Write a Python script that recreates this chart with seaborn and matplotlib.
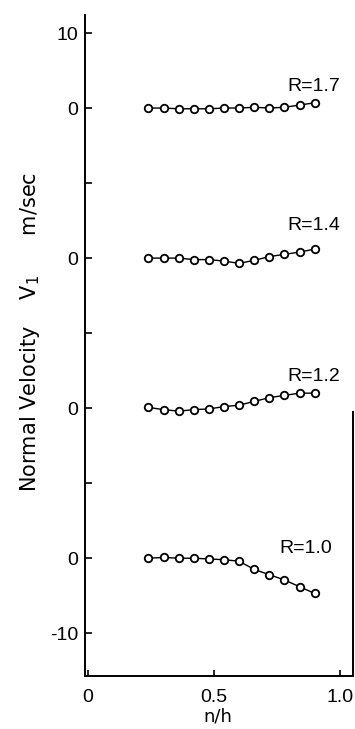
import matplotlib
matplotlib.use("Agg")
import matplotlib.pyplot as plt
import seaborn as sns
import pandas as pd

# ---- data ----
x_pos = [0.24, 0.30, 0.36, 0.42, 0.48, 0.54, 0.60, 0.66, 0.72, 0.78, 0.84, 0.90]
r_labels = ["R=1.0", "R=1.2", "R=1.4", "R=1.7"]
v_r10 = [0.0, 0.1, 0.0, 0.0, -0.1, -0.2, -0.4, -1.5, -2.2, -2.9, -3.8, -4.7]
v_r12 = [0.1, -0.2, -0.4, -0.2, -0.1, 0.2, 0.4, 0.9, 1.4, 1.7, 2.0, 2.0]
v_r14 = [0.0, 0.0, 0.0, -0.2, -0.2, -0.4, -0.7, -0.3, 0.2, 0.5, 0.8, 1.2]
v_r17 = [0.0, 0.0, -0.1, -0.1, -0.1, 0.0, 0.0, 0.1, 0.0, 0.1, 0.4, 0.7]
offsets = [0, 20, 40, 60]          # vertical stacking of the curves
ytick_vals = [-10, 0, 10, 20, 30, 40, 50, 60, 70]
ytick_text = ["-10", "0", "", "0", "", "0", "", "0", "10"]
xtick_vals = [0, 0.5, 1.0]
xtick_text = ["0", "0.5", "1.0"]

series = [v_r10, v_r12, v_r14, v_r17]
frames = []
for lab, vals, off in zip(r_labels, series, offsets):
    frames.append(pd.DataFrame({"x": x_pos, "v": [v + off for v in vals], "R": lab}))
df = pd.concat(frames, ignore_index=True)

sns.set_theme(style="ticks")
plt.rcParams["font.family"] = ["Liberation Sans", "DejaVu Sans"]
plt.rcParams["text.color"] = "black"
plt.rcParams["axes.labelcolor"] = "black"

fig = plt.figure(figsize=(3.55, 7.29), dpi=100)
ax = fig.add_axes([85 / 355, 53 / 729, 268 / 355, 661 / 729])

for lab in r_labels:
    sub = df[df["R"] == lab]
    sns.lineplot(data=sub, x="x", y="v", ax=ax, color="black", lw=1.0,
                 marker="o", markersize=5.4, markerfacecolor="white",
                 markeredgecolor="black", markeredgewidth=1.3,
                 legend=False, sort=False)

# curve labels
label_pos = [(0.76, 0.2), (0.79, 23.1), (0.79, 43.2), (0.79, 61.7)]
for lab, (lx, ly) in zip(r_labels, label_pos):
    ax.text(lx, ly, lab, fontsize=14, ha="left", va="bottom", color="black")

ax.set_xlim(-0.012, 1.052)
ax.set_ylim(-15.7, 72.4)
ax.set_xticks(xtick_vals)
ax.set_xticklabels(xtick_text)
ax.set_yticks(ytick_vals)
ax.set_yticklabels(ytick_text)
ax.tick_params(axis="y", direction="in", length=5, width=1.2, pad=5,
               labelsize=14, colors="black")
ax.tick_params(axis="x", direction="in", length=4, width=1.2, pad=9,
               labelsize=14, colors="black")

ax.spines["top"].set_visible(False)
for s in ["left", "bottom", "right"]:
    ax.spines[s].set_linewidth(1.4)
    ax.spines[s].set_color("black")
ax.spines["right"].set_bounds(-15.7, 19.5)

ax.set_xlabel("n/h", fontsize=13, family=["DejaVu Sans"], va="center",
              color="black")
ax.xaxis.set_label_coords(0.496, -0.062)
ax.set_ylabel("Normal Velocity    V$_1$      m/sec", fontsize=15,
              family=["DejaVu Sans"], va="center", color="black")
ax.yaxis.set_label_coords(-0.205, 0.52)

fig.savefig("out.png", dpi=100)
